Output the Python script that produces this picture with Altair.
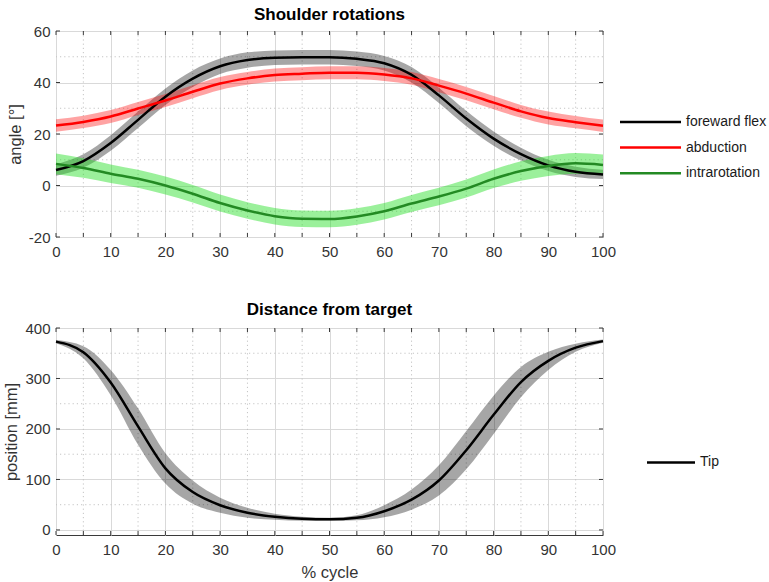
import altair as alt
import pandas as pd

FONT = "Liberation Sans"

# Percent of the movement cycle at which the curves are sampled
pct = [0, 5, 10, 15, 20, 25, 30, 35, 40, 45, 50, 55, 60, 65, 70, 75, 80, 85, 90, 95, 100]

# Shoulder rotation angles [deg]: mean and standard deviation per series
flex_mean = [6.0, 9.5, 16.5, 25.5, 34.5, 41.5, 46.3, 48.7, 49.6, 49.8, 49.8, 49.2, 47.5, 43.0, 35.0, 26.0, 18.2, 12.2, 7.8, 5.3, 4.3]
flex_sd = [2.2, 2.6, 3.0, 3.2, 3.2, 3.2, 3.0, 3.0, 2.8, 2.8, 2.8, 2.8, 2.8, 3.0, 3.0, 3.0, 2.8, 2.5, 2.2, 2.0, 1.8]
abd_mean = [23.3, 24.7, 26.8, 29.9, 33.0, 36.4, 39.6, 41.6, 42.9, 43.4, 43.8, 43.8, 43.1, 41.6, 38.8, 35.7, 32.2, 28.8, 26.2, 24.6, 23.2]
abd_sd = [2.4, 2.4, 2.5, 2.5, 2.5, 2.5, 2.5, 2.5, 2.5, 2.5, 2.5, 2.5, 2.5, 2.5, 2.6, 2.6, 2.6, 2.5, 2.5, 2.4, 2.4]
intra_mean = [8.4, 6.8, 4.6, 2.6, 0.0, -3.2, -6.8, -9.7, -11.9, -12.9, -13.0, -12.0, -10.0, -7.0, -4.3, -1.2, 2.6, 5.6, 7.6, 8.6, 8.0]
intra_sd = [4.0, 3.8, 3.6, 3.5, 3.5, 3.4, 3.3, 3.2, 3.2, 3.2, 3.2, 3.2, 3.2, 3.3, 3.4, 3.5, 3.6, 3.8, 3.9, 4.0, 4.0]

# Tip distance from target [mm]
tip_mean = [373, 352, 292, 205, 122, 75, 49, 34, 26, 22, 21, 24, 37, 60, 98, 158, 228, 293, 335, 361, 374]
tip_sd = [3, 12, 25, 36, 30, 23, 15, 10, 6, 4, 3, 5, 12, 20, 30, 38, 38, 30, 18, 8, 3]

series_names = ["foreward flex", "abduction", "intrarotation"]
line_colors = ["#000000", "#ff0000", "#238a23"]
band_colors = ["#000000", "#ff0000", "#22dd22"]
band_opacity = [0.35, 0.36, 0.45]

tip_name = "Tip"

# Axis tick values
x_major = [0, 10, 20, 30, 40, 50, 60, 70, 80, 90, 100]
x_minor = [5, 15, 25, 35, 45, 55, 65, 75, 85, 95]
rot_major = [-20, 0, 20, 40, 60]
rot_minor = [-10, 10, 30, 50]
dist_major = [0, 100, 200, 300, 400]
dist_minor = [50, 150, 250, 350]

W = 547
H_TOP = 206
H_BOT = 207
GRID = "#d9d9d9"
MINOR = "#c4c4c4"
FRAME = "#3a3a3a"
LABEL = "#333333"
# plain hyphen for negative tick labels
HYPHEN_LABEL = "datum.value < 0 ? '-' + abs(datum.value) : '' + datum.value"

xscale = alt.Scale(domain=[0, 100], nice=False, zero=False)


def x_axis(title):
    return alt.Axis(values=x_major, grid=True, gridColor=GRID, tickSize=0, domain=False,
                    labelPadding=7, labelFontSize=15, labelFont=FONT, labelColor=LABEL,
                    labelFlush=False, title=title, titleFont=FONT, titleFontSize=16.5,
                    titleFontWeight="normal", titleColor=LABEL, titlePadding=7)


def y_axis(values, title):
    return alt.Axis(values=values, grid=True, gridColor=GRID, tickSize=0, domain=False,
                    labelPadding=6, labelFontSize=15, labelFont=FONT, labelColor=LABEL,
                    labelExpr=HYPHEN_LABEL,
                    title=title, titleFont=FONT, titleFontSize=16.5,
                    titleFontWeight="normal", titleColor=LABEL, titlePadding=5)


def frame_layers(xa, ya, yscale, y_maj, y_min, height):
    """Dotted minor grid and inward ticks on all four sides of the box."""
    xm = pd.DataFrame({"v": x_minor})
    ym = pd.DataFrame({"v": y_min})
    xall = pd.DataFrame({"v": x_major + x_minor})
    yall = pd.DataFrame({"v": y_maj})
    X = lambda: alt.X("v:Q", scale=xscale, axis=xa)
    Y = lambda: alt.Y("v:Q", scale=yscale, axis=ya)
    dots = dict(strokeDash=[1.2, 3], color=MINOR, strokeWidth=1)
    tick = dict(color=FRAME, strokeWidth=1)
    return [
        alt.Chart(xm).mark_rule(**dots).encode(x=X()),
        alt.Chart(ym).mark_rule(**dots).encode(y=Y()),
        alt.Chart(xall).mark_rule(**tick).encode(x=X(), y=alt.value(0), y2=alt.value(4)),
        alt.Chart(xall).mark_rule(**tick).encode(x=X(), y=alt.value(height), y2=alt.value(height - 4)),
        alt.Chart(yall).mark_rule(**tick).encode(y=Y(), x=alt.value(0), x2=alt.value(4)),
        alt.Chart(yall).mark_rule(**tick).encode(y=Y(), x=alt.value(W - 4), x2=alt.value(W)),
    ]


def legend_entry(name, color, y, x0, x1, xt):
    d = pd.DataFrame({"label": [name]})
    rule = alt.Chart(d).mark_rule(color=color, strokeWidth=2.5).encode(
        x=alt.value(x0), x2=alt.value(x1), y=alt.value(y))
    text = alt.Chart(d).mark_text(align="left", baseline="middle", font=FONT, fontSize=14,
                                  color="#1a1a1a").encode(
        x=alt.value(xt), y=alt.value(y), text="label:N")
    return [rule, text]


# ---- Shoulder rotations panel ----
rot_scale = alt.Scale(domain=[-20, 60], nice=False, zero=False)
rot_xa = x_axis(None)
rot_ya = y_axis(rot_major, "angle [°]")
rows = []
for name, m, s, lc, bc, op in zip(series_names, [flex_mean, abd_mean, intra_mean],
                                  [flex_sd, abd_sd, intra_sd], line_colors, band_colors, band_opacity):
    for p, mv, sv in zip(pct, m, s):
        rows.append({"pct": p, "series": name, "mean": mv, "lo": mv - sv, "hi": mv + sv,
                     "lc": lc, "bc": bc, "op": op})
rot = pd.DataFrame(rows)

rot_band = alt.Chart(rot).mark_area(interpolate="monotone").encode(
    x=alt.X("pct:Q", scale=xscale, axis=rot_xa),
    y=alt.Y("lo:Q", scale=rot_scale, axis=rot_ya),
    y2="hi:Q",
    color=alt.Color("bc:N", scale=None),
    opacity=alt.Opacity("op:Q", scale=None),
    detail="series:N",
)
rot_line = alt.Chart(rot).mark_line(interpolate="monotone", strokeWidth=2.5).encode(
    x=alt.X("pct:Q", scale=xscale, axis=rot_xa),
    y=alt.Y("mean:Q", scale=rot_scale, axis=rot_ya),
    color=alt.Color("lc:N", scale=None),
    detail="series:N",
)

rot_legend = []
for i, (name, lc) in enumerate(zip(series_names, line_colors)):
    rot_legend += legend_entry(name, lc, 91 + 25.6 * i, W + 17, W + 78, W + 83)

top = alt.layer(
    *frame_layers(rot_xa, rot_ya, rot_scale, rot_major, rot_minor, H_TOP),
    rot_band, rot_line, *rot_legend
).properties(
    width=W, height=H_TOP,
    title=alt.Title("Shoulder rotations", font=FONT, fontSize=17, fontWeight="bold",
                    color="#000000", anchor="middle", offset=0),
)

# ---- Distance from target panel ----
dist_scale = alt.Scale(domain=[-10, 400], nice=False, zero=False)
dist_xa = x_axis("% cycle")
dist_ya = y_axis(dist_major, "position [mm]")
dist = pd.DataFrame({"pct": pct, "mean": tip_mean,
                     "lo": [m - s for m, s in zip(tip_mean, tip_sd)],
                     "hi": [m + s for m, s in zip(tip_mean, tip_sd)]})

dist_band = alt.Chart(dist).mark_area(interpolate="monotone", color="#000000", opacity=0.35).encode(
    x=alt.X("pct:Q", scale=xscale, axis=dist_xa),
    y=alt.Y("lo:Q", scale=dist_scale, axis=dist_ya),
    y2="hi:Q",
)
dist_line = alt.Chart(dist).mark_line(interpolate="monotone", strokeWidth=2.5, color="#000000").encode(
    x=alt.X("pct:Q", scale=xscale, axis=dist_xa),
    y=alt.Y("mean:Q", scale=dist_scale, axis=dist_ya),
)
dist_legend = legend_entry(tip_name, "#000000", 134.4, W + 44, W + 92, W + 97)

bottom = alt.layer(
    *frame_layers(dist_xa, dist_ya, dist_scale, dist_major, dist_minor, H_BOT),
    dist_band, dist_line, *dist_legend
).properties(
    width=W, height=H_BOT,
    title=alt.Title("Distance from target", font=FONT, fontSize=17, fontWeight="bold",
                    color="#000000", anchor="middle", offset=2),
)

chart = alt.vconcat(top, bottom, spacing=91, bounds="flush").properties(
    padding={"left": 3, "top": 5, "right": 0, "bottom": 0},
    background="white",
).configure_view(stroke=FRAME, strokeWidth=1)

chart.save("out.html", embed_options={"renderer": "svg", "actions": False})
